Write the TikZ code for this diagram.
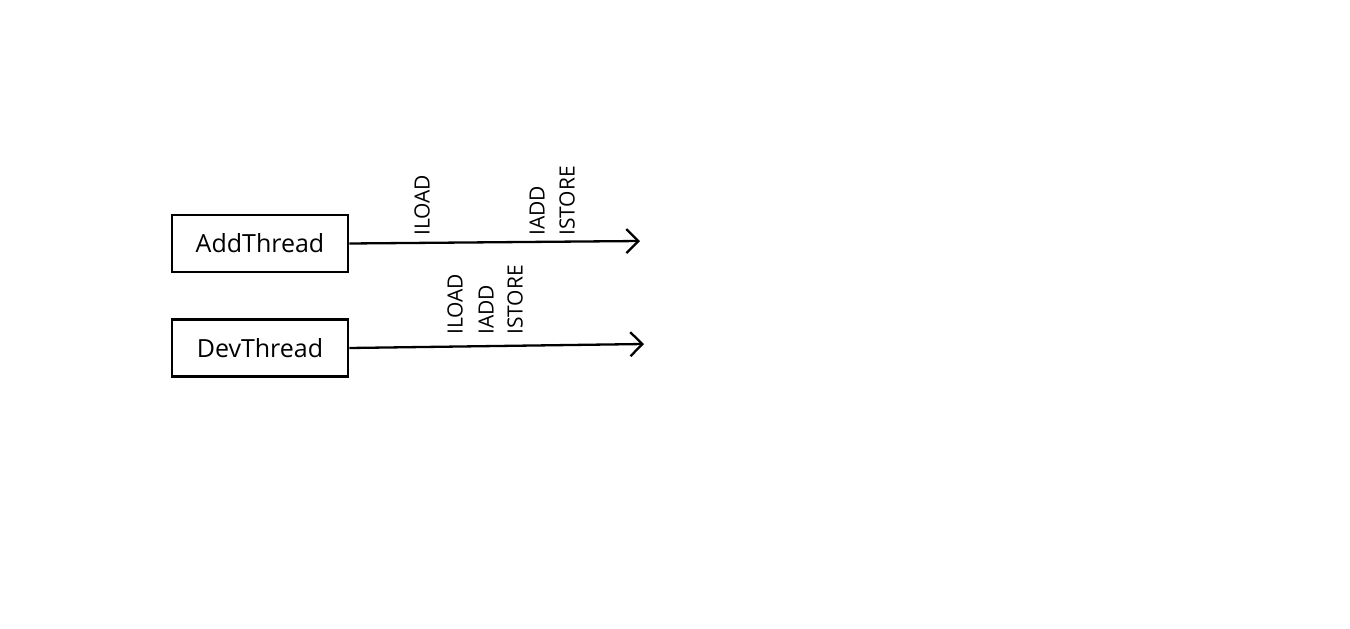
\documentclass[tikz,border=0pt]{standalone}
\usepackage{fontspec}
\setmainfont{Open Sans}
\usetikzlibrary{arrows.meta,positioning}

\begin{document}
\begin{tikzpicture}[x=1pt,y=-1pt,
  thread/.style={draw,line width=2.6pt,minimum width=176pt,minimum height=57pt,inner sep=0pt,font=\fontsize{25}{29}\selectfont},
  timeline/.style={line width=2.3pt,-{Straight Barb[length=12pt,width=24pt,line width=2.3pt]}},
  op/.style={rotate=90,anchor=west,inner sep=0pt,font=\fontsize{21}{25}\selectfont}]
  \useasboundingbox (0,0) rectangle (1350,629);
  % threads and their time lines
  \node[thread] (add) at (260,243.5) {AddThread};
  \node[thread] (dev) at (260,348) {DevThread};
  \coordinate (addend) at (640,241);
  \coordinate (devend) at (644,344);
  \draw[timeline] (add.east) -- (addend);
  \draw[timeline] (dev.east) -- (devend);
  % bytecodes
  \node[op] (aload) at (422,236) {ILOAD};
  \node[op] (aadd) at (537,236) {IADD};
  \node[op] (astore) at (567,236) {ISTORE};
  \node[op] (dload) at (455,335) {ILOAD};
  \node[op] (dadd) at (486,335) {IADD};
  \node[op] (dstore) at (515,335) {ISTORE};
\end{tikzpicture}
\end{document}
